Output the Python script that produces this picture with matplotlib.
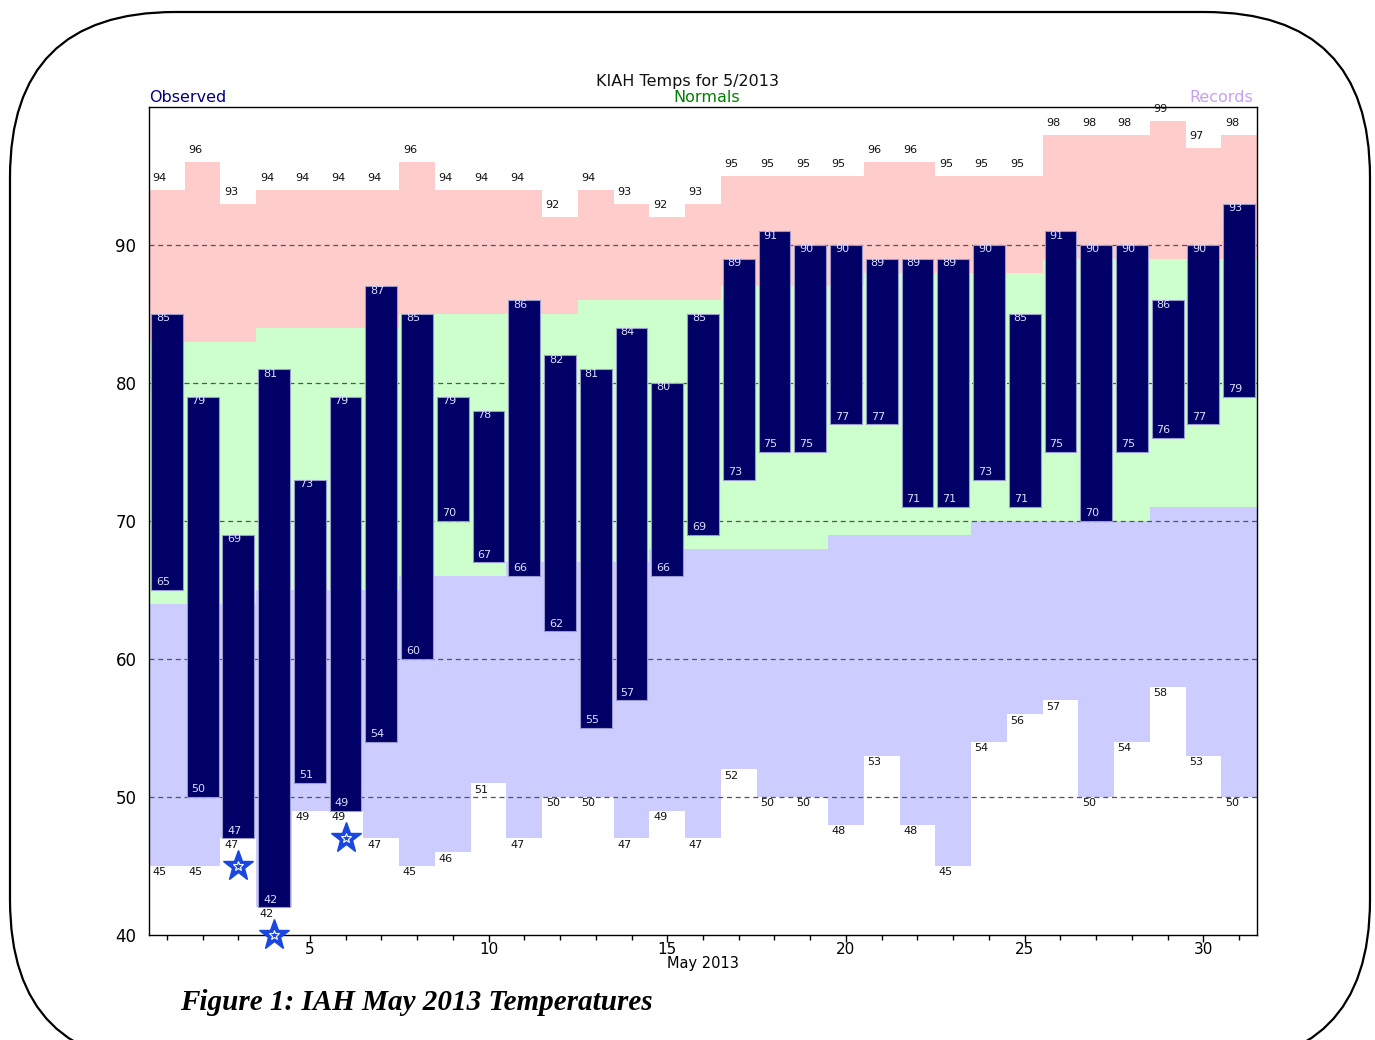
import numpy as np
import matplotlib.pyplot as plt
from matplotlib.patches import FancyBboxPatch

plt.rcParams['font.family'] = ['DejaVu Sans']

# daily data for May 2013 at KIAH
days = np.arange(1, 32)
obs_high = [85, 79, 69, 81, 73, 79, 87, 85, 79, 78, 86, 82, 81, 84, 80, 85,
            89, 91, 90, 90, 89, 89, 89, 90, 85, 91, 90, 90, 86, 90, 93]
obs_low = [65, 50, 47, 42, 51, 49, 54, 60, 70, 67, 66, 62, 55, 57, 66, 69,
           73, 75, 75, 77, 77, 71, 71, 73, 71, 75, 70, 75, 76, 77, 79]
norm_high = [83, 83, 83, 84, 84, 84, 84, 85, 85, 85, 85, 85, 86, 86, 86, 86,
             87, 87, 87, 87, 88, 88, 88, 88, 88, 89, 89, 89, 89, 89, 89]
norm_low = [64, 64, 64, 65, 65, 65, 65, 66, 66, 66, 67, 67, 67, 67, 68, 68,
            68, 68, 68, 69, 69, 69, 69, 70, 70, 70, 70, 70, 71, 71, 71]
rec_high = [94, 96, 93, 94, 94, 94, 94, 96, 94, 94, 94, 92, 94, 93, 92, 93,
            95, 95, 95, 95, 96, 96, 95, 95, 95, 98, 98, 98, 99, 97, 98]
rec_low = [45, 45, 47, 42, 49, 49, 47, 45, 46, 51, 47, 50, 50, 47, 49, 47,
           52, 50, 50, 48, 53, 48, 45, 54, 56, 57, 50, 54, 58, 53, 50]

W, H = 1375, 1040
fig = plt.figure(figsize=(W / 100, H / 100), dpi=100)
ax = fig.add_axes([149 / W, 1 - 935 / H, (1257 - 149) / W, (935 - 107) / H])

edges = np.arange(0.5, 32.0, 1.0)
# bands: record low -> normal low -> normal high -> record high
ax.stairs(norm_low, edges, baseline=rec_low, fill=True, color='#ccccff', zorder=1)
ax.stairs(norm_high, edges, baseline=norm_low, fill=True, color='#ccffcc', zorder=1)
ax.stairs(rec_high, edges, baseline=norm_high, fill=True, color='#ffcccc', zorder=1)

for y in [50, 60, 70, 80, 90]:
    ax.axhline(y, color='#555555', lw=0.9, ls=(0, (4, 3)), zorder=2)

hi = np.array(obs_high)
lo = np.array(obs_low)
ax.bar(days, hi - lo, bottom=lo, width=0.89, color='#000066',
       edgecolor='#9999cc', linewidth=0.8, zorder=3)

for d, h, l, rh, rl in zip(days, obs_high, obs_low, rec_high, rec_low):
    ax.annotate(str(h), (d - 0.31, h), xytext=(0, 0.5), textcoords='offset points',
                ha='left', va='top', fontsize=8, color='#ddddff', zorder=4)
    ax.annotate(str(l), (d - 0.31, l), xytext=(0, 2), textcoords='offset points',
                ha='left', va='bottom', fontsize=8, color='#ddddff', zorder=4)
    ax.annotate(str(rh), (d - 0.4, rh), xytext=(0, 5), textcoords='offset points',
                ha='left', va='bottom', fontsize=8, color='#111111', zorder=4)
    ax.annotate(str(rl), (d - 0.4, rl), xytext=(0, -1), textcoords='offset points',
                ha='left', va='top', fontsize=8, color='#111111', zorder=4)
    # record low tied or broken -> star
    if l <= rl:
        ax.plot(d, l - 2, marker='*', ms=23, color='#1a47e0', mec='#1a47e0',
                zorder=6, clip_on=False)
        ax.plot(d, l - 2, marker='*', ms=7, mfc='none', mec='white', mew=0.8,
                zorder=7, clip_on=False)

ax.set_xlim(0.5, 31.5)
ax.set_ylim(40, 100)
ax.set_yticks([40, 50, 60, 70, 80, 90])
ax.set_xticks([5, 10, 15, 20, 25, 30])
ax.set_xticks(days, minor=True)
ax.tick_params(axis='y', length=0, pad=9, labelsize=12)
ax.tick_params(axis='x', which='major', length=5, width=1, direction='out', labelsize=11, pad=0)
ax.tick_params(axis='x', which='minor', length=3.5, width=1, direction='out')
for s in ax.spines.values():
    s.set_linewidth(1)
ax.set_xlabel('May 2013', fontsize=10.5, labelpad=-1)

fig.text(688 / W, 1 - 82 / H, 'KIAH Temps for 5/2013', ha='center', va='center', fontsize=11.5, color='#111111')
fig.text(149 / W, 1 - 98 / H, 'Observed', ha='left', va='center', fontsize=11.5, color='#000080')
fig.text(707 / W, 1 - 98 / H, 'Normals', ha='center', va='center', fontsize=11.5, color='#008000')
fig.text(1253 / W, 1 - 98 / H, 'Records', ha='right', va='center', fontsize=11.5, color='#c8a0f0')

fig.text(180 / W, 1 - 1003 / H, 'Figure 1: IAH May 2013 Temperatures', ha='left', va='center',
         fontsize=21, family='Liberation Serif', weight='bold', style='italic')

frame = FancyBboxPatch((10, -25), 1360, 1053, boxstyle='round,pad=0,rounding_size=165',
                       transform=None, fill=False, edgecolor='black', linewidth=1.6)
fig.add_artist(frame)

fig.savefig('out.png', dpi=100)
